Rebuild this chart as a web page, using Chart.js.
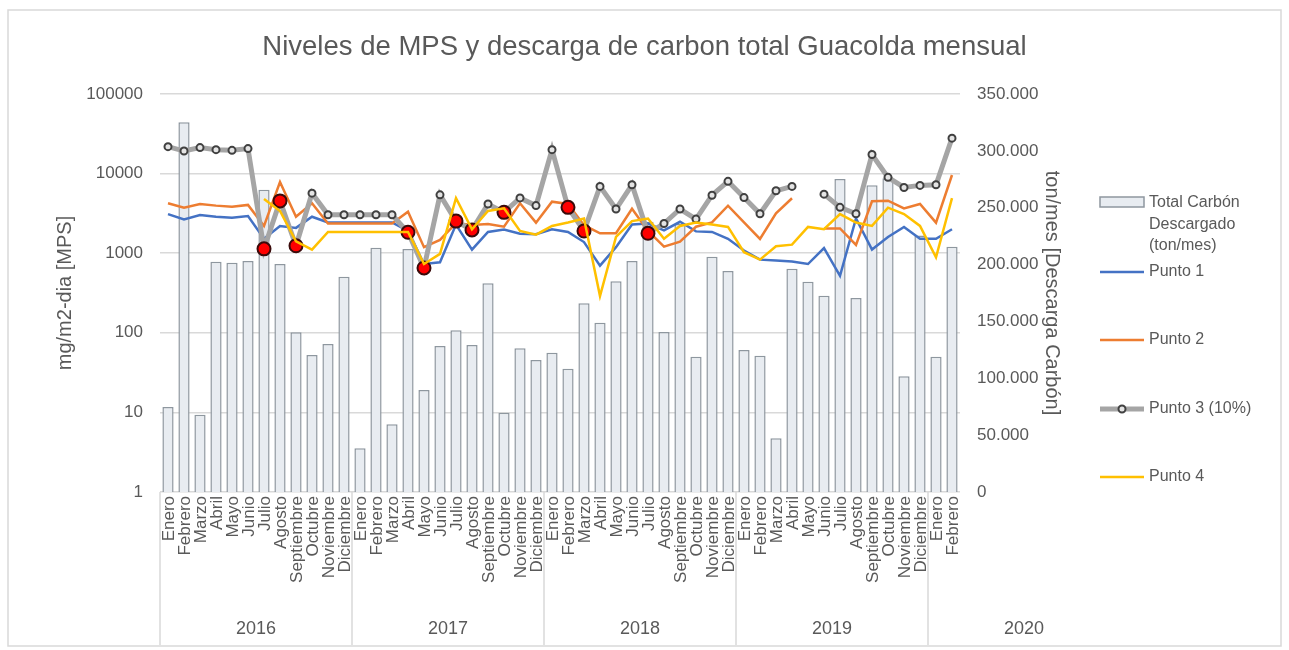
<!DOCTYPE html>
<html lang="es">
<head>
<meta charset="UTF-8">
<title>Niveles de MPS y descarga de carbon total Guacolda mensual</title>
<script src="https://cdn.jsdelivr.net/npm/chart.js"></script>
<style>
  html, body { margin: 0; padding: 0; background: #fff; }
  #wrap { position: relative; width: 1289px; height: 650px; }
</style>
</head>
<body>
<div id="wrap"><canvas id="chart" width="1289" height="650"></canvas></div>
<script>
const FONT = '"Liberation Sans", Arial, sans-serif';
const TEXT = '#595959';

const monthNames = ['Enero', 'Febrero', 'Marzo', 'Abril', 'Mayo', 'Junio', 'Julio',
  'Agosto', 'Septiembre', 'Octubre', 'Noviembre', 'Diciembre'];
const years = ['2016', '2017', '2018', '2019', '2020'];
const monthsPerYear = [12, 12, 12, 12, 2];

// Total carbón descargado (ton/mes) - right axis
const carbon = [74700, 325100, 68000, 202500, 201700, 203100, 265800, 200500, 140400, 120500, 130200, 189300,
  38400, 214800, 59500, 213700, 89700, 128400, 142200, 129300, 183500, 69700, 126400, 116100,
  122500, 108400, 165900, 148900, 185300, 203100, 237700, 140700, 235700, 119000, 206800, 194400,
  124900, 119900, 47200, 196400, 184900, 172600, 275200, 170600, 269700, 275900, 101700, 225500,
  119000, 215700];

// MPS mg/m2-dia - left log axis
const punto1 = [3100, 2660, 3010, 2870, 2790, 2930, 1520, 2200, 2080, 2870,
  2430, 2430, 2430, 2430, 2430, 1900, 731, 769, 2290, 1110,
  1850, 1980, 1760, 1730, 2000, 1850, 1380, 697, 1190, 2290,
  2360, 1940, 2480, 1880, 1850, 1520, 1080, 830, 807, 784,
  731, 1160, 520, 2730, 1110, 1600, 2140, 1520, 1520, 2000];
const punto2 = [4240, 3730, 4160, 3960, 3840, 4040, 2200, 7830, 2870, 4240,
  2360, 2360, 2360, 2360, 2360, 3320, 1190, 1470, 2390, 2260,
  2330, 2150, 4240, 2420, 4440, 4150, 2250, 1780, 1780, 3620,
  1900, 1210, 1400, 2150, 2440, 3950, 2440, 1510, 3170, 4900,
  null, 2050, 2050, 1270, 4500, 4570, 3660, 4150, 2420, 9600];
const punto3 = [21800, 19200, 21200, 20000, 19600, 20600, 1135, 4540, 1240, 5680,
  3040, 3040, 3040, 3040, 3040, 1830, 652, 5410, 2530, 1960,
  4150, 3260, 4950, 3960, 20000, 3770, 1900, 6900, 3590, 7240,
  1780, 2360, 3590, 2680, 5350, 8000, 5000, 3130, 6080, 6900,
  null, 5520, 3770, 3130, 17400, 8980, 6700, 7110, 7240, 27900];
const punto4 = [null, null, null, null, null, null, 4810, 3390, 1410, 1110,
  1850, 1850, 1850, 1850, 1850, 1850, 731, 982, 4910, 2000,
  3390, 3660, 1900, 1710, 2200, 2430, 2730, 290, 1600, 2530,
  2730, 1520, 2200, 2430, 2290, 2140, 1030, 830, 1220, 1280,
  2140, 2000, 3100, 2430, 2200, 3730, 3100, 2200, 889, 4910];
// Punto 3 points drawn with a red marker
const redPoints = [6, 7, 8, 15, 16, 18, 19, 21, 25, 26, 30];

const logTicks = [1, 10, 100, 1000, 10000, 100000];

const labels = [];
years.forEach((y, k) => {
  for (let m = 0; m < monthsPerYear[k]; m++) labels.push([monthNames[m], y]);
});

const isRed = i => redPoints.includes(i);

// month names rotated + year boxes under the plot
const categoryAxis = {
  id: 'categoryAxis',
  afterDraw(chart) {
    const ctx = chart.ctx, xs = chart.scales.x, area = chart.chartArea;
    const half = (xs.getPixelForValue(1) - xs.getPixelForValue(0)) / 2;
    ctx.save();
    ctx.fillStyle = TEXT;
    ctx.font = '17px ' + FONT;
    labels.forEach((lab, i) => {
      ctx.save();
      ctx.translate(xs.getPixelForValue(i) + 1, area.bottom + 4);
      ctx.rotate(-Math.PI / 2);
      ctx.textAlign = 'right';
      ctx.textBaseline = 'middle';
      ctx.fillText(lab[0], 0, 0);
      ctx.restore();
    });
    ctx.strokeStyle = '#d9d9d9';
    ctx.lineWidth = 1.5;
    ctx.font = '18px ' + FONT;
    ctx.textAlign = 'center';
    ctx.textBaseline = 'middle';
    let start = 0;
    years.forEach((y, k) => {
      const x0 = xs.getPixelForValue(start) - half;
      const x1 = x0 + 24 * half;
      ctx.beginPath();
      ctx.moveTo(x0, area.bottom);
      ctx.lineTo(x0, 645);
      ctx.stroke();
      ctx.fillText(y, (x0 + x1) / 2, 629);
      start += monthsPerYear[k];
    });
    ctx.restore();
  }
};

// legend on the right side
const sideLegend = {
  id: 'sideLegend',
  afterDraw(chart) {
    const ctx = chart.ctx;
    const ds = chart.data.datasets;
    const x0 = 1100, x1 = 1144, tx = 1149;
    ctx.save();
    ctx.font = '16px ' + FONT;
    ctx.fillStyle = TEXT;
    ctx.textBaseline = 'middle';
    // bars
    ctx.fillStyle = ds[0].backgroundColor;
    ctx.fillRect(x0, 197, x1 - x0, 10);
    ctx.strokeStyle = ds[0].borderColor;
    ctx.lineWidth = 1.5;
    ctx.strokeRect(x0, 197, x1 - x0, 10);
    ctx.fillStyle = TEXT;
    ['Total Carbón', 'Descargado', '(ton/mes)'].forEach((t, i) => ctx.fillText(t, tx, 203 + i * 21.5));
    const rows = [[1, 272], [2, 340], [3, 409], [4, 477]];
    rows.forEach(([d, y]) => {
      const set = ds[d];
      ctx.strokeStyle = set.borderColor;
      ctx.lineWidth = set.borderWidth;
      ctx.beginPath();
      ctx.moveTo(x0, y);
      ctx.lineTo(x1, y);
      ctx.stroke();
      if (d === 3) {
        ctx.beginPath();
        ctx.arc((x0 + x1) / 2, y, 3.5, 0, Math.PI * 2);
        ctx.fillStyle = '#e4e4e4';
        ctx.fill();
        ctx.lineWidth = 2;
        ctx.strokeStyle = '#404040';
        ctx.stroke();
      }
      ctx.fillStyle = TEXT;
      ctx.fillText(set.label, tx, y);
    });
    ctx.restore();
  }
};

const frame = {
  id: 'frame',
  beforeDraw(chart) {
    const ctx = chart.ctx;
    ctx.save();
    ctx.fillStyle = '#fff';
    ctx.fillRect(0, 0, chart.width, chart.height);
    ctx.strokeStyle = '#d9d9d9';
    ctx.lineWidth = 1.5;
    ctx.strokeRect(8, 10, 1273, 636);
    ctx.restore();
  }
};

new Chart(document.getElementById('chart'), {
  data: {
    labels: labels,
    datasets: [
      {
        type: 'bar', label: 'Total Carbón Descargado (ton/mes)', data: carbon, yAxisID: 'y1',
        backgroundColor: '#e8ecf1', borderColor: '#8e979f', borderWidth: 1.5,
        barPercentage: 0.7, categoryPercentage: 1, order: 5
      },
      {
        type: 'line', label: 'Punto 1', data: punto1, yAxisID: 'y',
        borderColor: '#4472c4', borderWidth: 2.5, pointRadius: 0, tension: 0, order: 4
      },
      {
        type: 'line', label: 'Punto 2', data: punto2, yAxisID: 'y',
        borderColor: '#ed7d31', borderWidth: 2.5, pointRadius: 0, tension: 0, order: 3
      },
      {
        type: 'line', label: 'Punto 3 (10%)', data: punto3, yAxisID: 'y',
        borderColor: '#a5a5a5', borderWidth: 5, tension: 0, order: 2,
        pointRadius: punto3.map((v, i) => isRed(i) ? 6.5 : 3.5),
        pointBackgroundColor: punto3.map((v, i) => isRed(i) ? '#ff0000' : '#e4e4e4'),
        pointBorderColor: punto3.map((v, i) => isRed(i) ? '#3a0a0a' : '#404040'),
        pointBorderWidth: 2
      },
      {
        type: 'line', label: 'Punto 4', data: punto4, yAxisID: 'y',
        borderColor: '#ffc000', borderWidth: 2.5, pointRadius: 0, tension: 0, order: 1
      }
    ]
  },
  options: {
    responsive: false,
    animation: false,
    layout: { padding: 0 },
    plugins: {
      legend: { display: false },
      tooltip: { enabled: false },
      title: {
        display: true,
        text: 'Niveles de MPS y descarga de carbon total Guacolda mensual',
        color: TEXT,
        font: { family: FONT, size: 27.5, weight: 'normal' },
        padding: { top: 31, bottom: 30 }
      }
    },
    scales: {
      x: {
        type: 'category',
        offset: true,
        grid: { display: false },
        border: { display: false },
        ticks: { display: false },
        afterFit: s => { s.height = 158; }
      },
      y: {
        type: 'logarithmic',
        position: 'left',
        min: 1, max: 100000,
        afterBuildTicks: s => { s.ticks = logTicks.map(v => ({ value: v })); },
        afterFit: s => { s.width = 160; },
        grid: { color: '#d9d9d9', lineWidth: 1.5, drawTicks: false },
        border: { display: false },
        ticks: { color: TEXT, font: { family: FONT, size: 17 }, padding: 17, callback: v => String(v) },
        title: {
          display: true, text: 'mg/m2-dia [MPS]', color: TEXT,
          font: { family: FONT, size: 20 }, padding: { top: 53, bottom: 0 }
        }
      },
      y1: {
        type: 'linear',
        position: 'right',
        min: 0, max: 350000,
        afterFit: s => { s.width = 329; },
        grid: { display: false, drawTicks: false },
        border: { display: false },
        ticks: {
          stepSize: 50000, color: TEXT, font: { family: FONT, size: 17 }, padding: 17,
          callback: v => v === 0 ? '0' : v.toLocaleString('de-DE')
        },
        title: {
          display: true, text: 'ton/mes [Descarga Carbón]', color: TEXT,
          font: { family: FONT, size: 20 }, padding: { top: 225, bottom: 0 }
        }
      }
    }
  },
  plugins: [frame, categoryAxis, sideLegend]
});
</script>
</body>
</html>
